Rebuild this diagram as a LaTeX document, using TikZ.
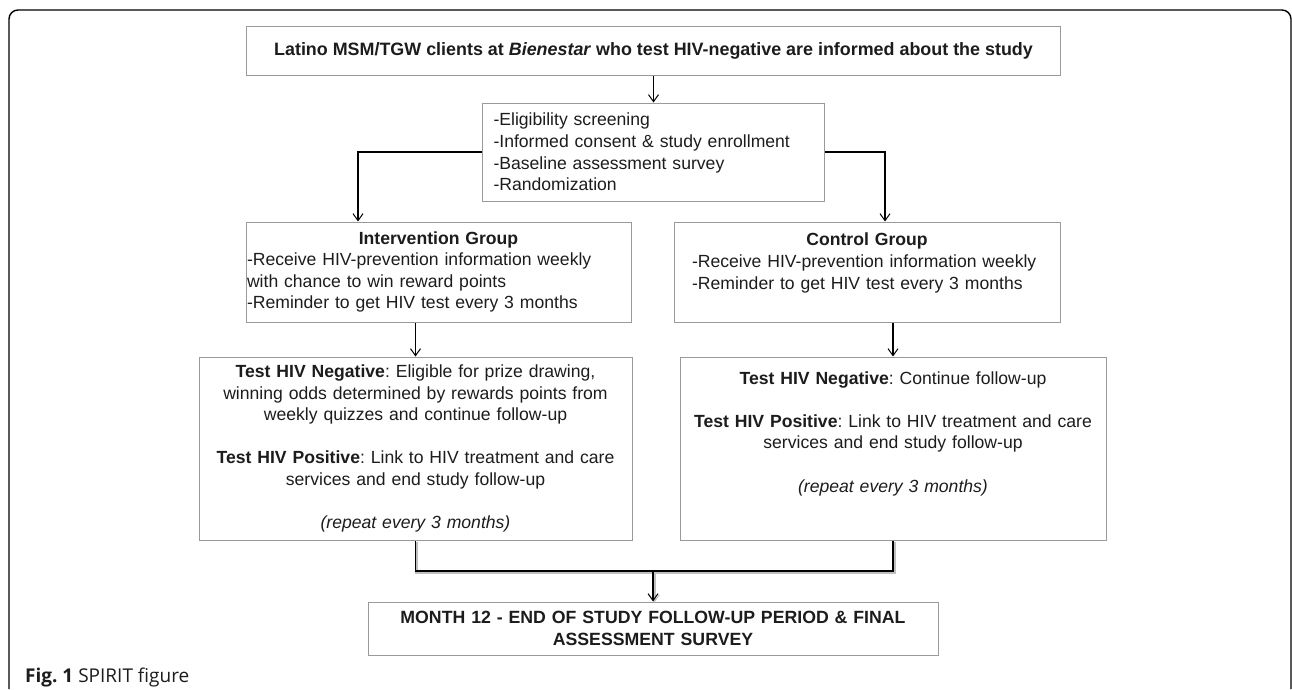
\documentclass[tikz,border=0pt]{standalone}
\usepackage{fontspec}
\setmainfont{Liberation Sans}
\newfontfamily\captionfont{Open Sans}
\usetikzlibrary{arrows.meta, positioning}
\frenchspacing

\definecolor{boxgray}{HTML}{9A9A9A}
\definecolor{inkgray}{HTML}{1C1C1C}

\newcommand{\boxfont}{\fontsize{17.6}{21.6}\selectfont}
\newcommand{\finalfont}{\fontsize{17.7}{22}\selectfont\bfseries}

\tikzset{
  box/.style={draw=boxgray, line width=1pt, inner sep=0pt, text=inkgray, font=\boxfont},
  arr/.style={-{Straight Barb[length=7pt,width=10pt,line width=1pt]}, line width=1.2pt},
  mergeline/.style={line width=1.8pt, preaction={draw=black!25, line width=3pt, transform canvas={shift={(1.2,1.2)}}}}
}

\begin{document}
\begin{tikzpicture}[x=1pt, y=-1pt]
    \useasboundingbox (0,0) rectangle (1292,689);
    \draw[line width=1.4pt, rounded corners=9pt] (9,689) -- (9,10) -- (1291,10) -- (1291,689);

    \node[box, minimum width=814, minimum height=49, font=\fontsize{17.9}{21.6}\selectfont\bfseries] (title) at (653.5,50.5)
        {Latino MSM/TGW clients at \textit{Bienestar} who test HIV-negative are informed about the study};
    \node[box, minimum width=342, minimum height=98, text width=320, align=left] (screen) at (653.5,152)
        {-Eligibility screening\\-Informed consent \& study enrollment\\-Baseline assessment survey\\-Randomization};

    \node[box, minimum width=385, minimum height=100, text width=383, align=left] (interv) at (438.5,272)
        {\hfill\textbf{Intervention Group}\hfill\null\\-Receive HIV-prevention information weekly\\with chance to win reward points\\-Reminder to get HIV test every 3 months};
    \node[box, minimum width=386, minimum height=100, text width=350, align=left] (ctrl) at (867,272)
        {\hfill\textbf{Control Group}\hfill\null\\-Receive HIV-prevention information weekly\\-Reminder to get HIV test every 3 months\\\mbox{}};

    \node[box, minimum width=433, minimum height=183, text width=429, align=center] (testL) at (415.5,448.5)
        {\textbf{Test HIV Negative}: Eligible for prize drawing,\\winning odds determined by rewards points from\\weekly quizzes and continue follow-up\\[21.6pt]
         \textbf{Test HIV Positive}: Link to HIV treatment and care\\services and end study follow-up\\[21.6pt]
         \textit{(repeat every 3 months)}};
    \node[box, minimum width=426, minimum height=183, text width=422, align=center] (testR) at (893,448.5)
        {\textbf{Test HIV Negative}: Continue follow-up\\[21.6pt]
         \textbf{Test HIV Positive}: Link to HIV treatment and care\\services and end study follow-up\\[21.6pt]
         \textit{(repeat every 3 months)}\\[12pt]\mbox{}};

    \node[box, minimum width=570, minimum height=53, text width=560, align=center, font=\finalfont] (final) at (653,628.5)
        {MONTH 12 - END OF STUDY FOLLOW-UP PERIOD \& FINAL\\ASSESSMENT SURVEY};

    \node[anchor=base west, inner sep=0pt, text=inkgray, font=\captionfont\fontsize{19}{22}\selectfont] (caption) at (25,682)
        {\textbf{Fig. 1} SPIRIT figure};

    % arrows
    \draw[arr] (title) -- (screen);
    \draw[arr] (screen.west) -| ([xshift=-80.5pt]interv.north);
    \draw[arr] (screen.east) -| ([xshift=18pt]ctrl.north);
    \draw[arr] (interv.south -| testL.north) -- (testL.north);
    \draw[arr] (ctrl.south -| testR.north) -- (testR.north);

    \coordinate (merge) at (653,571);
    \draw[mergeline] (testL.south) |- (merge) -| (testR.south);
    \draw[arr, mergeline] (merge) -- (final);
\end{tikzpicture}
\end{document}
